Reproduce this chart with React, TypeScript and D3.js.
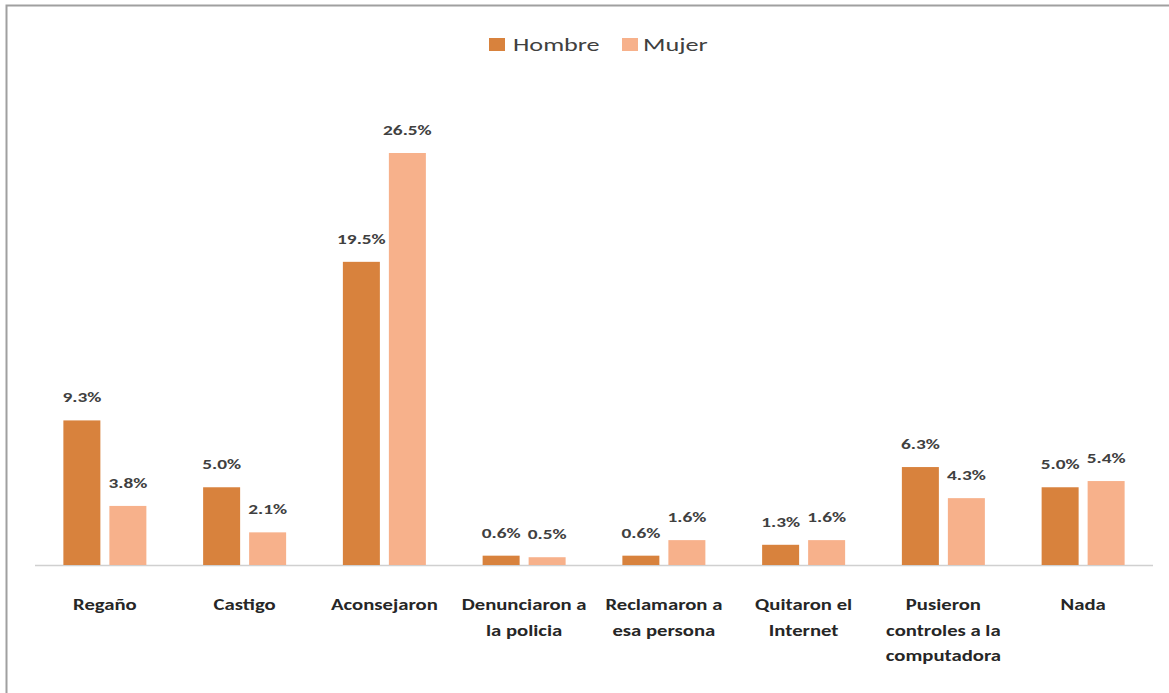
import React from "react";
import * as d3 from "d3";

const categories = [
  ["Regaño"],
  ["Castigo"],
  ["Aconsejaron"],
  ["Denunciaron a", "la policia"],
  ["Reclamaron a", "esa persona"],
  ["Quitaron el", "Internet"],
  ["Pusieron", "controles a la", "computadora"],
  ["Nada"],
];
const hombre = [9.3, 5.0, 19.5, 0.6, 0.6, 1.3, 6.3, 5.0];
const mujer = [3.8, 2.1, 26.5, 0.5, 1.6, 1.6, 4.3, 5.4];
const seriesNames = ["Hombre", "Mujer"];
const colors = ["#D8823D", "#F7B18B"];

const W = 1169;
const H = 693;
const left = 35;
const right = 1153;
const baseline = 565;
const topY = 153;
const SX = 1.38;

export default function App() {
  const x = d3.scaleBand<number>().domain(d3.range(categories.length)).range([left, right]).paddingInner(0).paddingOuter(0);
  const y = d3.scaleLinear().domain([0, 26.5]).range([baseline, topY]);
  const bw = 37;
  const gap = 9;
  const groupW = bw * 2 + gap;
  const series = [hombre, mujer];
  const font = "Calibri, Carlito, Lato, 'Open Sans', sans-serif";
  return (
    <svg width={W} height={H} style={{ position: "absolute", left: 0, top: 0, background: "#fff" }}>
      <rect x={6.5} y={5.5} width={W} height={H} fill="#fff" stroke="#a0a0a0" strokeWidth={2} />
      {/* legend */}
      <g fontFamily={font} fontSize={19} fill="#404040">
        <rect x={489} y={38} width={16} height={13} fill={colors[0]} />
        <text transform={`translate(513,51) scale(${SX},1)`}>{seriesNames[0]}</text>
        <rect x={622} y={38} width={16} height={13} fill={colors[1]} />
        <text transform={`translate(643,51) scale(${SX},1)`}>{seriesNames[1]}</text>
      </g>
      <line x1={left} x2={right} y1={baseline + 0.5} y2={baseline + 0.5} stroke="#d0d0d0" strokeWidth={1.5} />
      {categories.map((cat, i) => {
        const cx = (x(i) as number) + x.bandwidth() / 2;
        const gx = cx - groupW / 2;
        return (
          <g key={i}>
            {series.map((s, j) => {
              const bx = gx + j * (bw + gap);
              const v = s[i];
              return (
                <g key={j}>
                  <rect x={bx} y={y(v)} width={bw} height={baseline - y(v)} fill={colors[j]} />
                  <text
                    transform={`translate(${bx + bw / 2},${y(v) - 18}) scale(${SX},1)`}
                    textAnchor="middle"
                    fontFamily={font}
                    fontSize={14}
                    fontWeight={600}
                    fill="#404040"
                  >
                    {v.toFixed(1) + "%"}
                  </text>
                </g>
              );
            })}
            {cat.map((line, k) => (
              <text
                key={k}
                transform={`translate(${cx},${610 + k * 25.5}) scale(${SX},1)`}
                textAnchor="middle"
                fontFamily={font}
                fontSize={15}
                fontWeight="bold"
                fill="#262626"
              >
                {line}
              </text>
            ))}
          </g>
        );
      })}
    </svg>
  );
}
